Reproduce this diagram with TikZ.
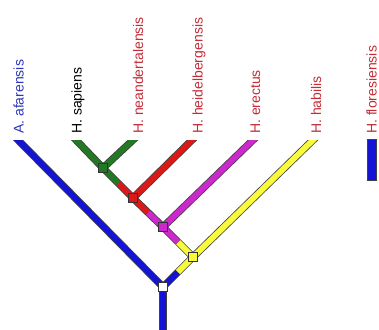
\documentclass[tikz,border=0pt]{standalone}
\usepackage{fontspec}
\setmainfont{Liberation Sans}
\usetikzlibrary{calc,backgrounds}
\definecolor{treeBlue}{RGB}{20,20,215}
\definecolor{treeGreen}{RGB}{35,120,35}
\definecolor{treeRed}{RGB}{220,25,25}
\definecolor{treeMagenta}{RGB}{205,40,205}
\definecolor{treeYellow}{RGB}{250,250,60}
\definecolor{labelRed}{RGB}{195,45,55}
\definecolor{labelBlue}{RGB}{45,55,185}
\tikzset{
  branch/.style={draw=black!75, line width=0.8pt, double distance=5.8pt, line cap=butt},
  tipbranch/.style={branch, shorten >=-6pt},
  hub/.style={draw=black!80, line width=0.8pt, minimum size=9.5pt, inner sep=0pt},
  taxon/.style={rotate=90, anchor=base west, inner sep=0pt, font=\fontsize{14}{16}\selectfont},
  bar/.style={draw=black!75, line width=0.8pt, fill=treeBlue, minimum width=8.5pt, minimum height=41pt, inner sep=0pt}
}

\begin{document}
\begin{tikzpicture}[x=1pt,y=-1pt]
  \useasboundingbox (0,0) rectangle (379,329);
  \node[hub, fill=white] (root) at (163,287) {};
  \node[hub, fill=treeYellow] (habNode) at (193,257) {};
  \node[hub, fill=treeMagenta] (ereNode) at (163,227) {};
  \node[hub, fill=treeRed] (heiNode) at (133,198) {};
  \node[hub, fill=treeGreen] (sapNode) at (103,168) {};

  \coordinate (afaTip) at (18,140);
  \coordinate (sapTip) at (76,140);
  \coordinate (neaTip) at (133,140);
  \coordinate (heiTip) at (192,140);
  \coordinate (ereTip) at (253,140);
  \coordinate (habTip) at (313,140);
  \coordinate (stemEnd) at (163,329);

  \node[taxon, text=labelBlue] (afaLabel) at (23.5,134) {A. afarensis};
  \node[taxon, text=black] (sapLabel) at (81.5,134) {H. sapiens};
  \node[taxon, text=labelRed] (neaLabel) at (143,134) {H. neandertalensis};
  \node[taxon, text=labelRed] (heiLabel) at (202.5,134) {H. heidelbergensis};
  \node[taxon, text=labelRed] (ereLabel) at (260,134) {H. erectus};
  \node[taxon, text=labelRed] (habLabel) at (321,134) {H. habilis};
  \node[taxon, text=labelRed] (floLabel) at (376.5,134) {H. floresiensis};
  \node[bar] (floBar) at (372,160) {};

  \begin{pgfonlayer}{background}
    \begin{scope}
      \clip (0,140) rectangle (379,329);
      \draw[tipbranch, double=treeBlue] (root.center) -- (afaTip);
      \draw[tipbranch, double=treeBlue] (root.center) -- (stemEnd);
      \draw[branch, double=treeBlue] (root.center) -- ($(root)!0.5!(habNode)$);
      \draw[branch, double=treeYellow] ($(root)!0.5!(habNode)$) -- (habNode.center);
      \draw[tipbranch, double=treeYellow] (habNode.center) -- (habTip);
      \draw[branch, double=treeYellow] (habNode.center) -- ($(habNode)!0.5!(ereNode)$);
      \draw[branch, double=treeMagenta] ($(habNode)!0.5!(ereNode)$) -- (ereNode.center);
      \draw[tipbranch, double=treeMagenta] (ereNode.center) -- (ereTip);
      \draw[branch, double=treeMagenta] (ereNode.center) -- ($(ereNode)!0.5!(heiNode)$);
      \draw[branch, double=treeRed] ($(ereNode)!0.5!(heiNode)$) -- (heiNode.center);
      \draw[tipbranch, double=treeRed] (heiNode.center) -- (heiTip);
      \draw[branch, double=treeRed] (heiNode.center) -- ($(heiNode)!0.5!(sapNode)$);
      \draw[branch, double=treeGreen] ($(heiNode)!0.5!(sapNode)$) -- (sapNode.center);
      \draw[tipbranch, double=treeGreen] (sapNode.center) -- (sapTip);
      \draw[tipbranch, double=treeGreen] (sapNode.center) -- (neaTip);
    \end{scope}
  \end{pgfonlayer}
\end{tikzpicture}
\end{document}
